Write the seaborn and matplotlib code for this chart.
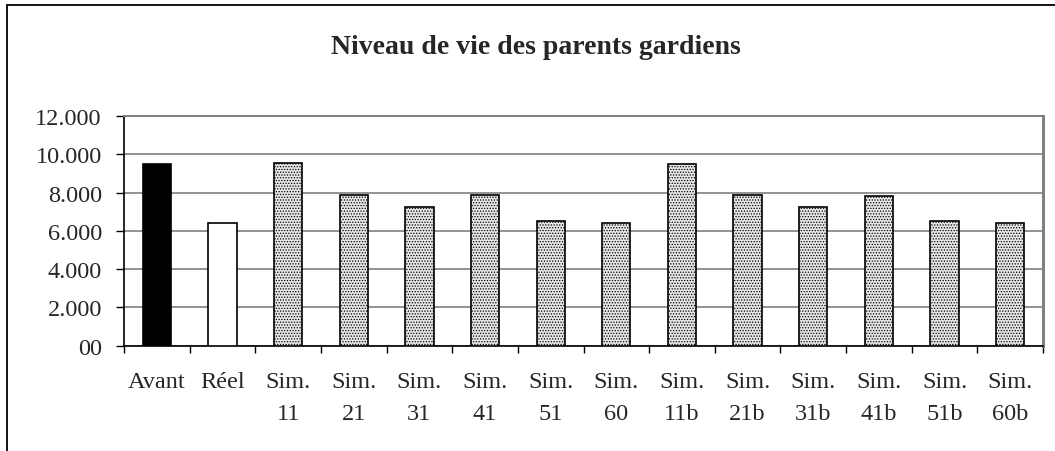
import matplotlib
matplotlib.use("Agg")
import matplotlib.pyplot as plt
import seaborn as sns
from matplotlib.patches import Rectangle
from matplotlib.ticker import FixedLocator

# Living standard of custodial parents, by scenario
categories = ["Avant", "Réel", "Sim.\n11", "Sim.\n21", "Sim.\n31", "Sim.\n41", "Sim.\n51",
              "Sim.\n60", "Sim.\n11b", "Sim.\n21b", "Sim.\n31b", "Sim.\n41b", "Sim.\n51b",
              "Sim.\n60b"]
values = [9480, 6390, 9520, 7860, 7270, 7860, 6520, 6430, 9500, 7860, 7270, 7830, 6530, 6420]
y_ticks = [0, 2000, 4000, 6000, 8000, 10000, 12000]
y_tick_labels = ["00", "2.000", "4.000", "6.000", "8.000", "10.000", "12.000"]
title = "Niveau de vie des parents gardiens"

sns.set_theme(style="white")
plt.rcParams["font.family"] = ["Liberation Serif", "DejaVu Serif"]
plt.rcParams["hatch.color"] = "#9a9a9a"
plt.rcParams["hatch.linewidth"] = 0.6

fill_colors = ["black", "white"] + ["#e6e6e6"] * (len(categories) - 2)

fig = plt.figure(figsize=(10.55, 4.52), dpi=100)
ax = fig.add_axes([124 / 1055, 1 - 346.7 / 452, (1043 - 124) / 1055, (346.7 - 117) / 452])

sns.barplot(x=categories, y=values, hue=categories, palette=fill_colors, legend=False,
            width=0.43, edgecolor="black", linewidth=1.2, saturation=1, ax=ax, zorder=3)
for i, patch in enumerate(ax.patches):
    if i >= 2:
        patch.set_hatch("......")

ax.set_xlim(-0.5, len(categories) - 0.5)
ax.set_ylim(0, 12000)
ax.set_yticks(y_ticks)
ax.set_yticklabels(y_tick_labels, fontsize=17.5)
ax.set_xlabel("")
ax.set_ylabel("")

# grid lines
ax.yaxis.grid(True, color="#808080", linewidth=1.2, zorder=0)
ax.xaxis.grid(False)
ax.set_axisbelow(True)

# category labels centred, tick marks on category boundaries
ax.tick_params(axis="x", which="major", length=0, pad=18.5, labelsize=17.5)
ax.xaxis.set_minor_locator(FixedLocator([i + 0.5 for i in range(-1, len(categories))]))
ax.tick_params(axis="x", which="minor", bottom=True, direction="out", length=5,
               width=1, color="black")
ax.tick_params(axis="y", which="major", left=True, direction="out", length=6,
               width=1, color="black", pad=10)
for lbl in ax.get_xticklabels():
    lbl.set_linespacing(1.65)
    lbl.set_verticalalignment("top")

for side in ["left", "bottom"]:
    ax.spines[side].set_color("black")
    ax.spines[side].set_linewidth(1.2)
ax.spines["top"].set_color("#808080")
ax.spines["top"].set_linewidth(1.4)
ax.spines["right"].set_color("#808080")
ax.spines["right"].set_linewidth(2.2)

fig.text(536 / 1055, 1 - 47 / 452, title, ha="center", va="center",
         fontsize=20, fontweight="bold")

# outer chart frame
fig.patches.append(Rectangle((7 / 1055, -0.1), 1.2, 1 - 6 / 452 + 0.1,
                             transform=fig.transFigure, fill=False,
                             edgecolor="black", linewidth=1.3))

fig.savefig("out.png", dpi=100, facecolor="white")
